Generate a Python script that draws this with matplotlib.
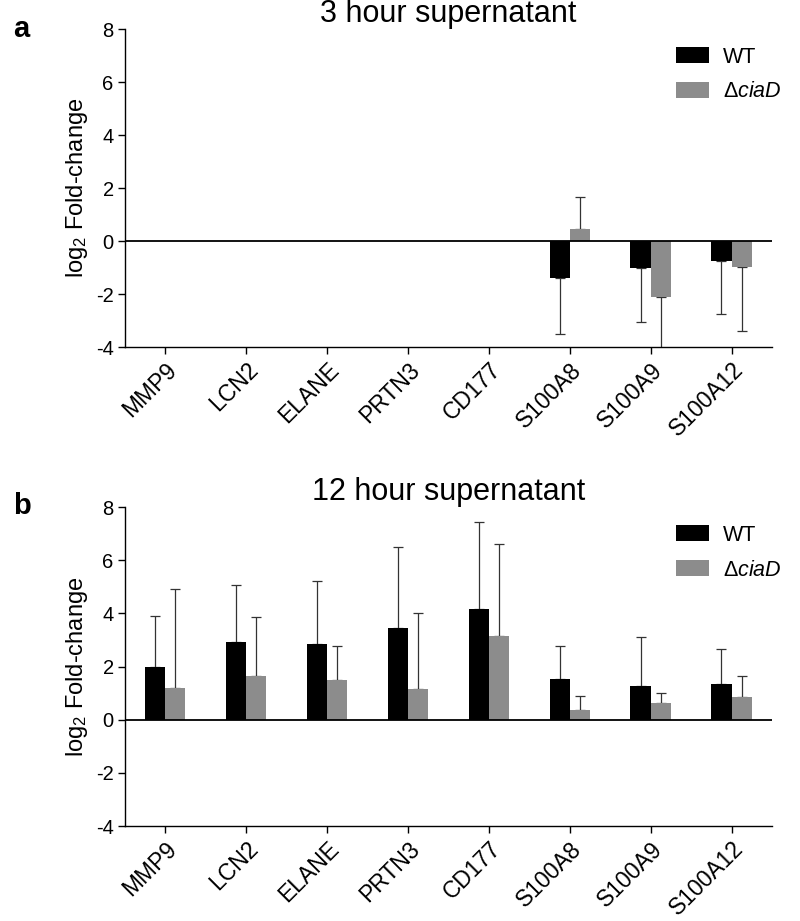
import numpy as np
import matplotlib
matplotlib.use("Agg")
import matplotlib.pyplot as plt
from matplotlib.patches import Patch

plt.rcParams['font.family'] = ['Liberation Sans', 'DejaVu Sans']
plt.rcParams['mathtext.fontset'] = 'custom'
plt.rcParams['mathtext.rm'] = 'Liberation Sans'
plt.rcParams['mathtext.it'] = 'Liberation Sans:italic'

genes = ["MMP9", "LCN2", "ELANE", "PRTN3", "CD177", "S100A8", "S100A9", "S100A12"]
yticks = [-4, -2, 0, 2, 4, 6, 8]

# 3 hour supernatant (NaN = no data)
wt_3h = [np.nan, np.nan, np.nan, np.nan, np.nan, -1.38, -1.00, -0.74]
wt_3h_sd = [np.nan, np.nan, np.nan, np.nan, np.nan, 2.12, 2.05, 2.03]
cia_3h = [np.nan, np.nan, np.nan, np.nan, np.nan, 0.44, -2.13, -0.97]
cia_3h_sd = [np.nan, np.nan, np.nan, np.nan, np.nan, 1.22, 2.60, 2.41]

# 12 hour supernatant
wt_12h = [2.00, 2.92, 2.83, 3.45, 4.18, 1.53, 1.27, 1.35]
wt_12h_sd = [1.90, 2.16, 2.37, 3.03, 3.24, 1.26, 1.83, 1.32]
cia_12h = [1.20, 1.65, 1.50, 1.15, 3.16, 0.36, 0.61, 0.86]
cia_12h_sd = [3.72, 2.22, 1.27, 2.87, 3.46, 0.55, 0.40, 0.80]

WT_COLOR = "#000000"
CIA_COLOR = "#8c8c8c"
ERR_COLOR = "#333333"

fig = plt.figure(figsize=(8.0, 9.21), dpi=100)
ax_a = fig.add_axes([0.156, 0.6232, 0.809, 0.3453])
ax_b = fig.add_axes([0.156, 0.1031, 0.809, 0.3464])

def one_sided(vals, sds):
    vals = np.asarray(vals, float)
    sds = np.asarray(sds, float)
    lower = np.where(vals < 0, sds, 0.0)
    upper = np.where(vals >= 0, sds, 0.0)
    return np.vstack([lower, upper])

def draw(ax, title, wt, wt_sd, cia, cia_sd):
    x = np.arange(len(genes))
    w = 0.25
    ax.bar(x - w / 2, wt, width=w, color=WT_COLOR, zorder=2)
    ax.bar(x + w / 2, cia, width=w, color=CIA_COLOR, zorder=2)
    for off, v, s in [(-w / 2, wt, wt_sd), (w / 2, cia, cia_sd)]:
        v = np.asarray(v, float)
        m = ~np.isnan(v)
        ax.errorbar((x + off)[m], v[m], yerr=one_sided(v, s)[:, m], fmt='none',
                    ecolor=ERR_COLOR, elinewidth=0.9, capsize=3.3, capthick=0.9, zorder=1)
    ax.axhline(0, color='black', lw=1.3, zorder=3)
    ax.set_xlim(-0.5, 7.5)
    ax.set_ylim(-4, 8)
    ax.set_yticks(yticks)
    ax.set_yticklabels([str(t) for t in yticks])
    ax.set_xticks(x)
    ax.set_xticklabels(genes, rotation=45, ha='right', rotation_mode='anchor')
    for sp in ['top', 'right']:
        ax.spines[sp].set_visible(False)
    for sp in ['left', 'bottom']:
        ax.spines[sp].set_linewidth(1.0)
    ax.tick_params(axis='both', direction='out', length=5, width=1.0, pad=3)
    ax.tick_params(axis='y', labelsize=14.5)
    ax.tick_params(axis='x', labelsize=16.5)
    ax.set_ylabel(r'log$_2$ Fold-change', fontsize=17, labelpad=4)
    ax.set_title(title, fontsize=22, pad=2)
    handles = [Patch(facecolor=WT_COLOR, edgecolor='none'),
               Patch(facecolor=CIA_COLOR, edgecolor='none')]
    ax.legend(handles, ['WT', r'$\Delta\mathit{ciaD}$'], loc='upper left',
              bbox_to_anchor=(0.851, 0.945), frameon=False, fontsize=15.5,
              handlelength=1.55, handleheight=0.72, handletextpad=0.65,
              labelspacing=0.65, borderpad=0, borderaxespad=0)

draw(ax_a, "3 hour supernatant", wt_3h, wt_3h_sd, cia_3h, cia_3h_sd)
draw(ax_b, "12 hour supernatant", wt_12h, wt_12h_sd, cia_12h, cia_12h_sd)

fig.text(0.016, 0.968, 'a', fontsize=21, fontweight='bold', va='center')
fig.text(0.016, 0.4506, 'b', fontsize=21, fontweight='bold', va='center')

fig.savefig("out.png", dpi=100)
